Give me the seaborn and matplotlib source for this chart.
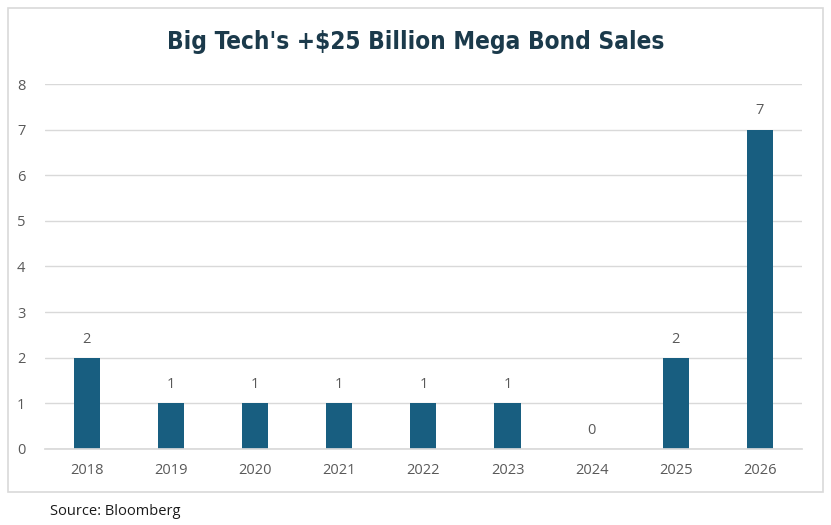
"""
Big Tech's +$25 Billion mega bond sales per year, bar chart.
"""
import matplotlib
matplotlib.use("Agg")
import matplotlib.pyplot as plt
from matplotlib.patches import Rectangle
import pandas as pd
import seaborn as sns

# ─── Data ─────────────────────────────────────────────────────────────────────
years = ["2018", "2019", "2020", "2021", "2022", "2023", "2024", "2025", "2026"]
deals = [2, 1, 1, 1, 1, 1, 0, 2, 7]

BAR_COLOR = "#185E80"
TITLE_COLOR = "#1B3A4B"
TEXT_COLOR = "#595959"
GRID_COLOR = "#D9D9D9"

sns.set_theme(style="white")
plt.rcParams["font.family"] = ["Open Sans", "DejaVu Sans"]

df = pd.DataFrame({"year": years, "deals": deals})

fig = plt.figure(figsize=(8.31, 5.25), dpi=100)
ax = fig.add_axes([0.054, 0.145, 0.911, 0.695])

sns.barplot(data=df, x="year", y="deals", color=BAR_COLOR, width=0.31,
            saturation=1, linewidth=0, ax=ax)

ax.set_ylim(0, 8)
ax.set_yticks(range(0, 9))
ax.set_xlim(-0.5, len(years) - 0.5)
ax.yaxis.grid(True, color=GRID_COLOR, linewidth=1)
ax.set_axisbelow(True)
for s in ["top", "right", "left"]:
    ax.spines[s].set_visible(False)
ax.spines["bottom"].set_color(GRID_COLOR)
ax.set_xlabel("")
ax.set_ylabel("")
ax.tick_params(axis="both", length=0, labelsize=10.5, colors=TEXT_COLOR)
ax.tick_params(axis="y", pad=14)
ax.tick_params(axis="x", pad=10)

ax.bar_label(ax.containers[0], labels=[str(v) for v in deals],
             padding=8, fontsize=10.5, color=TEXT_COLOR)

# Marco exterior del gráfico
fig.patches.append(Rectangle((0.0096, 0.063), 0.981, 0.922,
                             transform=fig.transFigure, fill=False,
                             edgecolor="#D9D9D9", linewidth=1.2))

fig.text(0.5, 0.92, "Big Tech's +$25 Billion Mega Bond Sales",
         ha="center", va="center", fontsize=17.5, fontweight="bold",
         color=TITLE_COLOR, family="DejaVu Sans", fontstretch="condensed")
fig.text(0.06, 0.025, "Source: Bloomberg", ha="left", va="center",
         fontsize=10.5, color="#1A1A1A")

fig.savefig("out.png", dpi=100)
